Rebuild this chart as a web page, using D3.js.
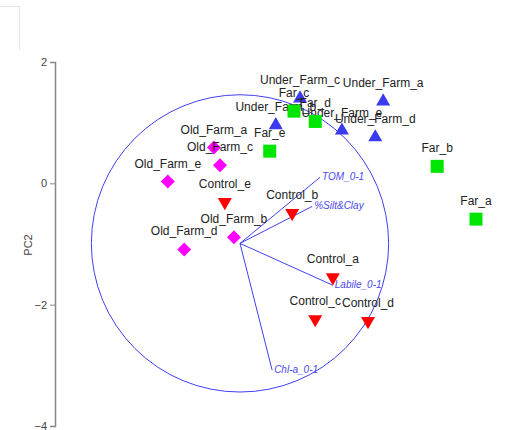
<!DOCTYPE html>
<html>
<head>
<meta charset="utf-8">
<script src="https://cdn.jsdelivr.net/npm/d3@7"></script>
<style>
  body { margin: 0; background: #fff; }
  svg { display: block; font-family: "Liberation Sans", Arial, sans-serif; }
</style>
</head>
<body>
<svg width="528" height="430"></svg>
<script>
// sample scores (PC1, PC2)
var underFarm = [
  {name: 'Under_Farm_a', pc1: 2.36, pc2: 1.35},
  {name: 'Under_Farm_b', pc1: 0.59, pc2: 0.96},
  {name: 'Under_Farm_c', pc1: 0.99, pc2: 1.40},
  {name: 'Under_Farm_d', pc1: 2.23, pc2: 0.76},
  {name: 'Under_Farm_e', pc1: 1.68, pc2: 0.87}
];
var far = [
  {name: 'Far_a', pc1: 3.89, pc2: -0.59},
  {name: 'Far_b', pc1: 3.25, pc2: 0.28},
  {name: 'Far_c', pc1: 0.89, pc2: 1.19},
  {name: 'Far_d', pc1: 1.24, pc2: 1.02},
  {name: 'Far_e', pc1: 0.49, pc2: 0.53}
];
var oldFarm = [
  {name: 'Old_Farm_a', pc1: -0.43, pc2: 0.59},
  {name: 'Old_Farm_b', pc1: -0.10, pc2: -0.89},
  {name: 'Old_Farm_c', pc1: -0.33, pc2: 0.30},
  {name: 'Old_Farm_d', pc1: -0.92, pc2: -1.09},
  {name: 'Old_Farm_e', pc1: -1.19, pc2: 0.03}
];
var control = [
  {name: 'Control_a', pc1: 1.53, pc2: -1.55},
  {name: 'Control_b', pc1: 0.86, pc2: -0.49},
  {name: 'Control_c', pc1: 1.24, pc2: -2.24},
  {name: 'Control_d', pc1: 2.11, pc2: -2.27},
  {name: 'Control_e', pc1: -0.25, pc2: -0.31}
];

// environmental vectors, drawn from the biplot origin
var vecOrigin = {pc1: 0, pc2: -0.99};
var vectors = [
  {name: 'TOM_0-1', pc1: 1.32, pc2: 0.10},
  {name: '%Silt&Clay', pc1: 1.19, pc2: -0.38},
  {name: 'Labile_0-1', pc1: 1.53, pc2: -1.68},
  {name: 'Chl-a_0-1', pc1: 0.53, pc2: -3.08}
];
var circleRadius = 2.45;

var yTicks = [2, 0, -2, -4];

var svg = d3.select('svg');

// same pixels per unit on both axes so the circle stays round
var yScale = d3.scaleLinear().domain([-4, 2]).range([426, 62]);
var unit = (426 - 62) / 6;
var xScale = d3.scaleLinear().domain([-3, 5]).range([240 - 3 * unit, 240 + 5 * unit]);

// faint frame corner at top left
svg.append('path')
  .attr('d', 'M0,6.5H19.5V50')
  .attr('fill', 'none')
  .attr('stroke', '#e4e4e4');

var yAxis = d3.axisLeft(yScale).tickValues(yTicks).tickFormat(d3.format('d')).tickSize(5).tickPadding(3);
var gy = svg.append('g')
  .attr('transform', 'translate(55,0)')
  .call(yAxis);
gy.select('.domain').attr('stroke', '#888').attr('stroke-width', 1.5);
gy.selectAll('.tick line').attr('stroke', '#888');
gy.selectAll('.tick text').attr('fill', '#444').style('font-size', '11px');

svg.append('text')
  .text('PC2')
  .attr('transform', 'translate(32,245) rotate(-90)')
  .attr('text-anchor', 'middle')
  .attr('fill', '#444')
  .style('font-size', '11px');

// correlation circle
svg.append('circle')
  .attr('cx', xScale(vecOrigin.pc1))
  .attr('cy', yScale(vecOrigin.pc2))
  .attr('r', circleRadius * unit)
  .attr('fill', 'none')
  .attr('stroke', '#4040f0')
  .attr('stroke-width', 1);

vectors.forEach(function(v) {
  svg.append('line')
    .attr('x1', xScale(vecOrigin.pc1))
    .attr('y1', yScale(vecOrigin.pc2))
    .attr('x2', xScale(v.pc1))
    .attr('y2', yScale(v.pc2))
    .attr('stroke', '#4040f0')
    .attr('stroke-width', 1);
  svg.append('text')
    .text(v.name)
    .attr('x', xScale(v.pc1) + 2)
    .attr('y', yScale(v.pc2) + 3)
    .attr('fill', '#4848f0')
    .style('font-size', '10px')
    .style('font-style', 'italic');
});

var groups = [
  {data: underFarm, color: '#3a3aee', shape: d3.symbolTriangle, size: 85, rotate: 0},
  {data: far, color: '#00e600', shape: d3.symbolSquare, size: 169, rotate: 0},
  {data: oldFarm, color: '#ff00ff', shape: d3.symbolSquare, size: 98, rotate: 45},
  {data: control, color: '#ff0000', shape: d3.symbolTriangle, size: 85, rotate: 180}
];

groups.forEach(function(g) {
  var sym = d3.symbol().type(g.shape).size(g.size);
  g.data.forEach(function(d) {
    svg.append('path')
      .attr('d', sym())
      .attr('transform', 'translate(' + xScale(d.pc1) + ',' + yScale(d.pc2) + ') rotate(' + g.rotate + ')')
      .attr('fill', g.color);
  });
  g.data.forEach(function(d) {
    svg.append('text')
      .text(d.name)
      .attr('x', xScale(d.pc1))
      .attr('y', yScale(d.pc2) - 14)
      .attr('text-anchor', 'middle')
      .attr('fill', '#222')
      .style('font-size', '12px');
  });
});
</script>
</body>
</html>
